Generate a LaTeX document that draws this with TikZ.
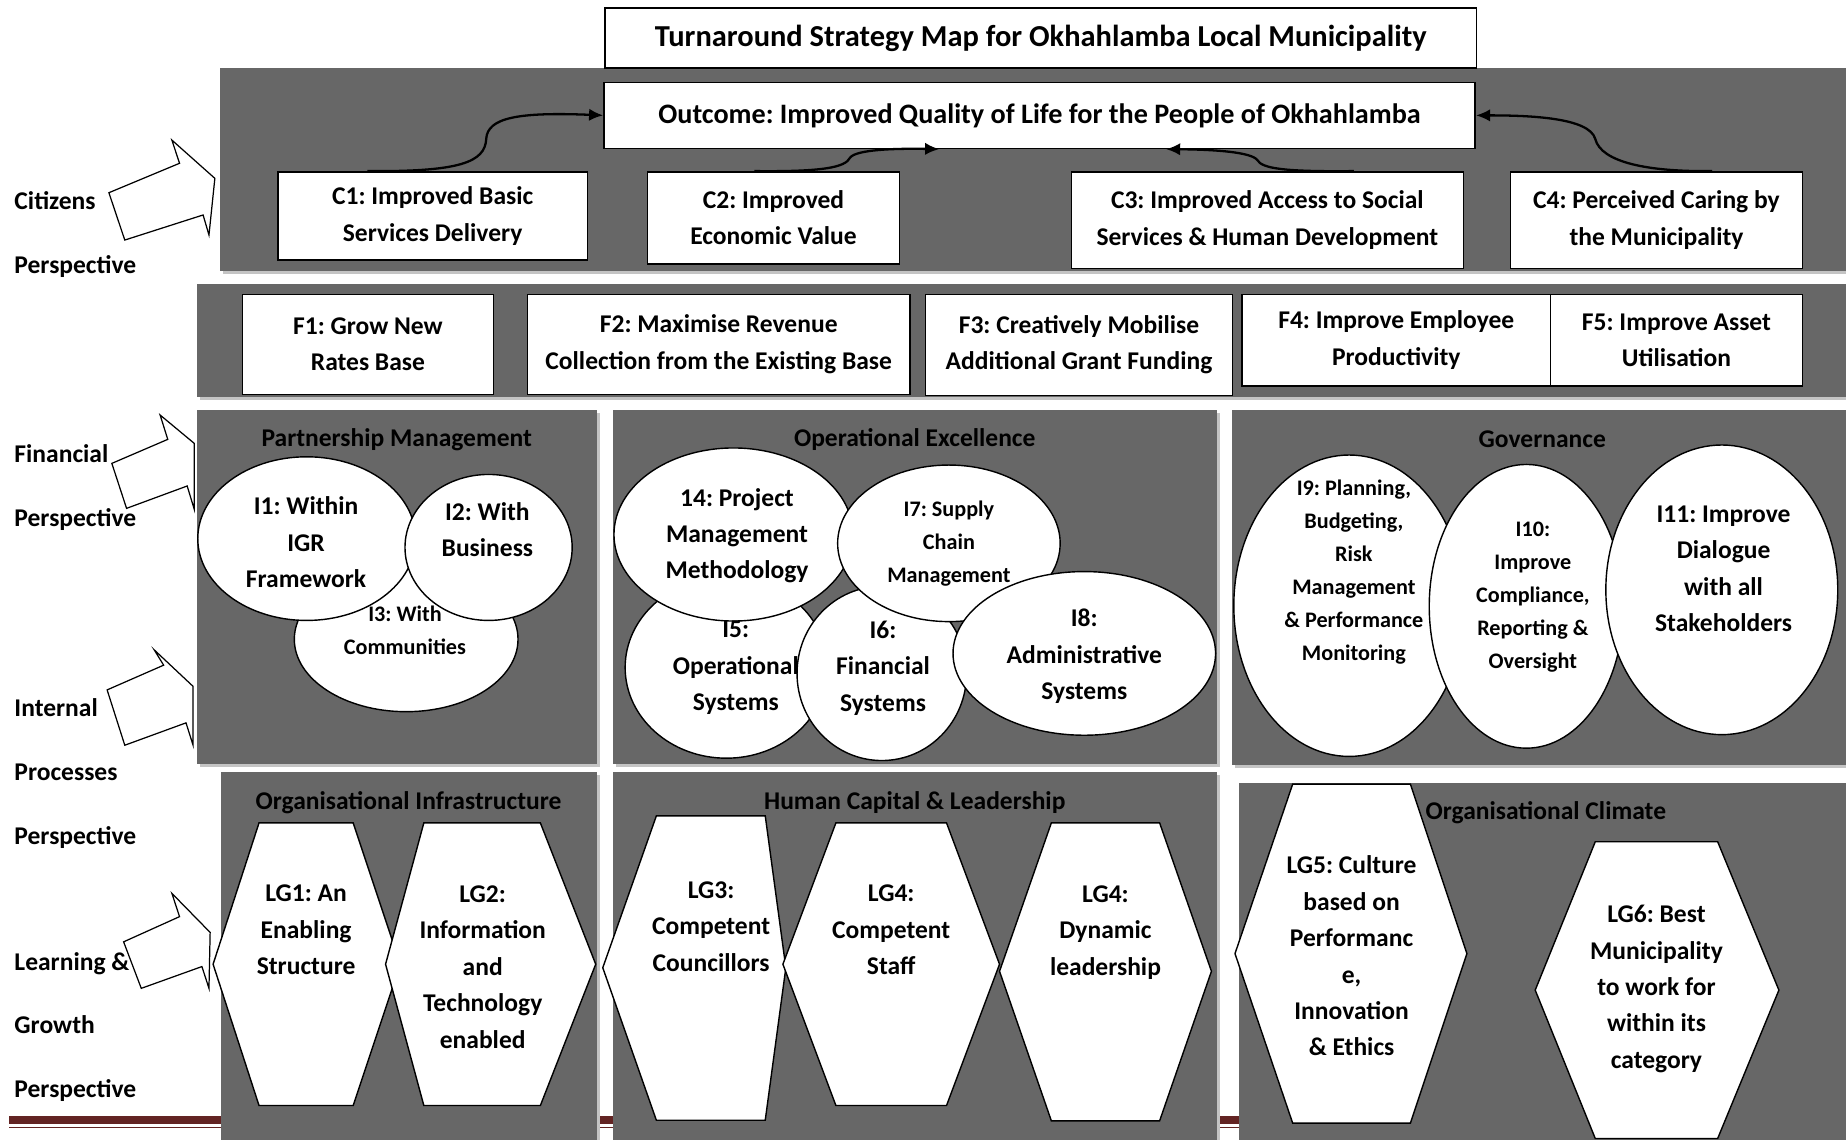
\documentclass[tikz,border=0pt]{standalone}
\usepackage{fontspec}
\setmainfont{Carlito}
\usepackage{tikz}
\usetikzlibrary{shapes.geometric,arrows.meta,positioning,calc}
\definecolor{smPanel}{RGB}{103,103,103}
\definecolor{smShadow}{RGB}{196,196,196}
\definecolor{smFooter}{RGB}{99,36,35}
\frenchspacing
\newcommand{\pxu}{0.0235cm}
\newcommand{\smTitleFont}{\fontsize{17.3}{20}\selectfont\bfseries}
\newcommand{\smOutcomeFont}{\fontsize{16}{20}\selectfont\bfseries}
\newcommand{\smBodyFont}{\fontsize{14.5}{20.7}\selectfont\bfseries}
\newcommand{\smSmallFont}{\fontsize{12.6}{18.8}\selectfont\bfseries}
\tikzset{
    smBoxBase/.style={
        rectangle,
        draw=black,
        line width=0.9pt,
        fill=white,
        align=center,
        inner sep=0pt,
        font=\smBodyFont
    },
    smOval/.style={ellipse, draw=black, line width=0.8pt, fill=white, inner sep=0pt},
    smHex/.style={draw=black, line width=0.8pt, fill=white},
    smBlockArrow/.style={draw=black, line width=0.7pt, fill=white, line join=miter},
    % Texts
    smText/.style={align=center, inner sep=0pt, font=\smBodyFont},
    smSmall/.style={smText, font=\smSmallFont},
    smSide/.style={anchor=base west, inner sep=0pt, font=\smBodyFont},
    % Panels
    smPanelFill/.style={fill=smPanel},
    smPanelShadow/.style={fill=smShadow, shift={(2.5,2.5)}},
    % Arrows
    smArrowBase/.style={-{Latex[length=8pt,width=7pt]}, line width=1.3pt, draw=black}
}
\begin{document}
\begin{tikzpicture}[x=\pxu, y=-\pxu]
\useasboundingbox (0,0) rectangle (1568,968);
\fill[white] (0,0) rectangle (1568,968);

% Footer rule of the page
\fill[smFooter] (8,948) rectangle (1052,955);
\fill[smFooter] (8,957) rectangle (1052,958.5);

% Perspective panels
\foreach \xa/\ya/\xb/\yb in {187/58/1568/230, 167/241/1568/337,
    167.5/348/507/649, 520.5/348/1034/649, 1046.5/348/1568/650,
    187.5/656/507/968, 520.5/656/1034/968, 1052/665/1568/968}{
    \fill[smPanelShadow] (\xa,\ya) rectangle (\xb,\yb);
    \fill[smPanelFill] (\xa,\ya) rectangle (\xb,\yb);
}

% Title and outcome
\node[smBoxBase, font=\smTitleFont, minimum width=740*\pxu, minimum height=51*\pxu] (title) at (884,32.5) {Turnaround Strategy Map for Okhahlamba Local Municipality};
\node[smBoxBase, font=\smOutcomeFont, minimum width=740*\pxu, minimum height=56*\pxu] (outcome) at (883,98) {Outcome: Improved Quality of Life for the People of Okhahlamba};

% Citizens perspective
\node[smBoxBase, minimum width=263*\pxu, minimum height=75*\pxu] (c1) at (367.5,183.5) {C1: Improved Basic\\Services Delivery};
\node[smBoxBase, minimum width=214*\pxu, minimum height=78*\pxu] (c2) at (657,185) {C2: Improved\\Economic Value};
\node[smBoxBase, minimum width=333*\pxu, minimum height=82*\pxu] (c3) at (1076.5,187) {C3: Improved Access to Social\\Services \& Human Development};
\node[smBoxBase, minimum width=248*\pxu, minimum height=82*\pxu] (c4) at (1407,187) {C4: Perceived Caring by\\the Municipality};

\draw[smArrowBase] ($(c1.north west)!0.29!(c1.north east)$) .. controls (390,146) and (412,138) .. (413,118) .. controls (414,100) and (440,95) .. (outcome.west);
\draw[smArrowBase] ($(c2.north west)!0.425!(c2.north east)$) .. controls (700,146) and (718,142) .. (722,134) .. controls (727,127) and (760,126) .. ($(outcome.south west)!0.385!(outcome.south east)$);
\draw[smArrowBase] ($(c3.north west)!0.72!(c3.north east)$) .. controls (1090,146) and (1072,143) .. (1068,136) .. controls (1063,129) and (1030,127) .. ($(outcome.south west)!0.645!(outcome.south east)$);
\draw[smArrowBase] ($(c4.north west)!0.69!(c4.north east)$) .. controls (1400,146) and (1360,138) .. (1355,118) .. controls (1350,100) and (1300,98) .. (outcome.east);

% Financial perspective
\node[smBoxBase, minimum width=213*\pxu, minimum height=85*\pxu] (f1) at (312.5,292.5) {F1: Grow New\\Rates Base};
\node[smBoxBase, minimum width=325*\pxu, minimum height=85*\pxu] (f2) at (610.5,292.5) {F2: Maximise Revenue\\Collection from the Existing Base};
\node[smBoxBase, minimum width=261*\pxu, minimum height=86*\pxu] (f3) at (916.5,293) {F3: Creatively Mobilise\\Additional Grant Funding};
\node[smBoxBase, minimum width=262*\pxu, minimum height=78*\pxu] (f4) at (1186,289) {F4: Improve Employee\\Productivity};
\node[smBoxBase, minimum width=214*\pxu, minimum height=78*\pxu] (f5) at (1424,289) {F5: Improve Asset\\Utilisation};

% Panel headings
\node[smText] (pmTitle) at (337,373.5) {Partnership Management};
\node[smText] (oeTitle) at (777,373.5) {Operational Excellence};
\node[smText] (govTitle) at (1310,373) {Governance};
\node[smText] (oiTitle) at (347,681.5) {Organisational Infrastructure};
\node[smText] (hclTitle) at (777,681.5) {Human Capital \& Leadership};
\node[smText] (ocTitle) at (1313,690.5) {Organisational Climate};

% Internal processes: partnership management
\node[smOval, minimum width=190*\pxu, minimum height=123*\pxu] (i3) at (345,543) {};
\node[smOval, minimum width=185*\pxu, minimum height=139*\pxu] (i1) at (260.5,457.5) {};
\node[smOval, minimum width=142*\pxu, minimum height=124*\pxu] (i2) at (415,465) {};
% Internal processes: operational excellence
\node[smOval, minimum width=172*\pxu, minimum height=154*\pxu] (i5) at (617,567) {};
\node[smOval, minimum width=144*\pxu, minimum height=148*\pxu] (i6) at (749,572) {};
\node[smOval, minimum width=203*\pxu, minimum height=147*\pxu] (i4) at (623,454) {};
\node[smOval, minimum width=189*\pxu, minimum height=133*\pxu] (i7) at (806,461.5) {};
\node[smOval, minimum width=223*\pxu, minimum height=139*\pxu] (i8) at (921,555) {};
% Internal processes: governance
\node[smOval, minimum width=196*\pxu, minimum height=256*\pxu] (i9) at (1146,514.5) {};
\node[smOval, minimum width=165*\pxu, minimum height=241*\pxu] (i10) at (1296.5,515) {};
\node[smOval, minimum width=197*\pxu, minimum height=246*\pxu] (i11) at (1462.5,501) {};

\node[smText] (i1txt) at (260,460.5) {I1: Within\\IGR\\Framework};
\node[smText] (i2txt) at (414,450) {I2: With\\Business};
\node[smSmall] (i3txt) at (344,535) {I3: With\\Communities};
\node[smText] (i4txt) at (626,455) {14: Project\\Management\\Methodology};
\node[smText] (i5txt) at (625,567.5) {I5:\\Operational\\Systems};
\node[smText] (i6txt) at (750,567.5) {I6:\\Financial\\Systems};
\node[smSmall] (i7txt) at (806,461.5) {I7: Supply\\Chain\\Management};
\node[smText] (i8txt) at (921,557.5) {I8:\\Administrative\\Systems};
\node[smSmall] (i9txt) at (1150,486) {I9: Planning,\\Budgeting,\\Risk\\Management\\\& Performance\\Monitoring};
\node[smSmall] (i10txt) at (1302,507) {I10:\\Improve\\Compliance,\\Reporting \&\\Oversight};
\node[smText] (i11txt) at (1464,483) {I11: Improve\\Dialogue\\with all\\Stakeholders};

% Learning & growth hexagons
\foreach \xl/\xa/\xb/\xr/\yt/\ym/\yb in {181/220/300/340/699/819/939, 327.5/360/459/506/699/819/939,
    512/557.5/650/667.5/693/822/951.5, 665/710/804/849/699/819/939, 849/893/985/1029/699/825/952,
    1049/1098/1198/1246/666/810/954, 1304/1355/1459/1511/715/841/967}
    \draw[smHex] (\xa,\yt) -- (\xb,\yt) -- (\xr,\ym) -- (\xb,\yb) -- (\xa,\yb) -- (\xl,\ym) -- cycle;

\node[smText] (lg1) at (260,790) {LG1: An\\Enabling\\Structure};
\node[smText] (lg2) at (410,821.5) {LG2:\\Information\\and\\Technology\\enabled};
\node[smText] (lg3) at (604,787) {LG3:\\Competent\\Councillors};
\node[smText] (lg4a) at (757,790) {LG4:\\Competent\\Staff};
\node[smText] (lg4b) at (939,792) {LG4:\\Dynamic\\leadership};
\node[smText] (lg5) at (1148,812) {LG5: Culture\\based on\\Performanc\\e,\\Innovation\\\& Ethics};
\node[smText] (lg6) at (1407,840) {LG6: Best\\Municipality\\to work for\\within its\\category};

% Perspective pointers
\draw[smBlockArrow] (92.5,163.7) -- (152.5,138.7) -- (146,119) -- (182.5,151.5) -- (177.5,199.6) -- (172.5,182.6) -- (106,203.9) -- cycle;
\draw[smBlockArrow] (95,393.6) -- (142.5,373.2) -- (136,352.5) -- (165,376.6) -- (165,432.6) -- (159,412.8) -- (107.5,431.8) -- cycle;
\draw[smBlockArrow] (91,586) -- (139,565) -- (131,552) -- (164,583) -- (164,633) -- (158,614) -- (106,633) -- cycle;
\draw[smBlockArrow] (105,800) -- (152.5,778.6) -- (146,758.8) -- (178.5,792) -- (177.5,839.5) -- (171.5,821) -- (120,839.5) -- cycle;

\foreach \lbl/\yy in {Citizens/178, Perspective/232, Financial/393, Perspective/447,
    Internal/609, Processes/663, Perspective/717, Learning \&/824, Growth/878, Perspective/932}
    \node[smSide] (side\yy) at (12,\yy) {\lbl};
\end{tikzpicture}
\end{document}
